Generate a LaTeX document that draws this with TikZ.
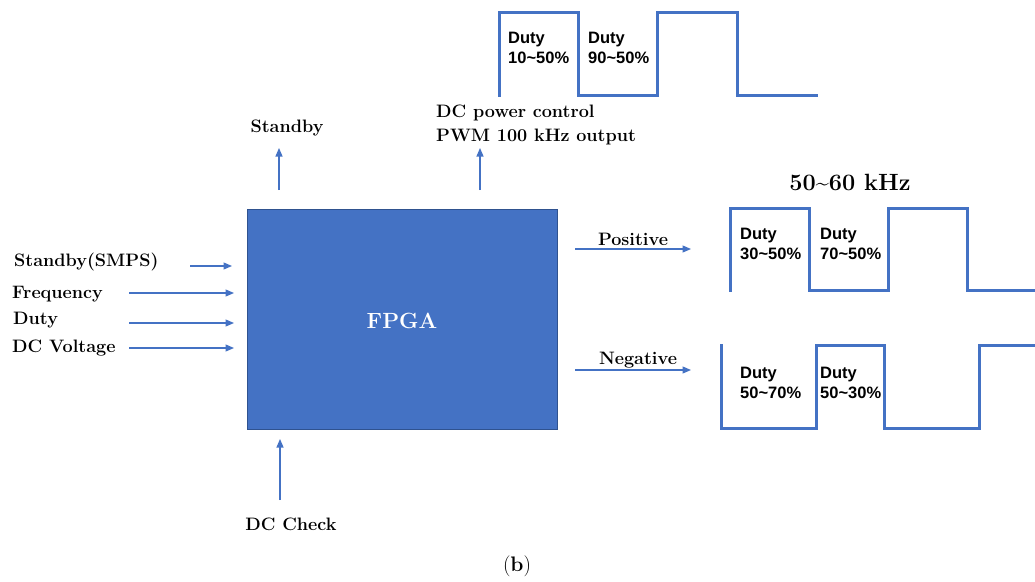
\documentclass[tikz,border=0pt]{standalone}
\usepackage{fontspec}
\newfontfamily\dutyfont{Liberation Sans}
\usetikzlibrary{arrows.meta}
\definecolor{wblue}{HTML}{4472C4}
\definecolor{bblue}{HTML}{2F528F}
\tikzset{
  sig/.style={draw=wblue, line width=1.2pt, -{Triangle[length=8.5pt,width=7pt]}},
  wave/.style={draw=wblue, line width=3pt, line join=miter, line cap=rect},
  lab/.style={font=\fontsize{18}{24}\selectfont\bfseries, inner sep=0pt},
  duty/.style={font=\dutyfont\fontsize{16.5}{20}\selectfont\bfseries, align=left, inner sep=0pt, anchor=north west},
}
\begin{document}
\begin{tikzpicture}[x=1pt,y=-1pt]
\useasboundingbox (0,0) rectangle (1035,581);
% FPGA
\node[draw=bblue, fill=wblue, line width=0.8pt, minimum width=310pt, minimum height=220pt, inner sep=0pt] (fpga) at (402,319) {};
\node[font=\fontsize{22}{26}\selectfont\bfseries, text=white] (fpgal) at (402,321) {FPGA};
% top outputs
\node[lab] (stby) at (287,128) {Standby};
\coordinate (stbyA) at (279,190);
\coordinate (stbyB) at (279,148);
\draw[sig] (stbyA) -- (stbyB);
\node[lab, align=left, anchor=west] (dcp) at (436,125) {DC power control\\PWM 100 kHz output};
\coordinate (dcpA) at (480,190);
\coordinate (dcpB) at (480,148);
\draw[sig] (dcpA) -- (dcpB);
% left inputs
\node[lab, anchor=west] (in1) at (14,262) {Standby(SMPS)};
\node[lab, anchor=west] (in2) at (12,294) {Frequency};
\node[lab, anchor=west] (in3) at (13,320) {Duty};
\node[lab, anchor=west] (in4) at (12,348) {DC Voltage};
\coordinate (a1) at (190,266); \coordinate (b1) at (232,266);
\coordinate (a2) at (129,293); \coordinate (b2) at (234,293);
\coordinate (a3) at (129,323); \coordinate (b3) at (234,323);
\coordinate (a4) at (129,348); \coordinate (b4) at (234,348);
\draw[sig] (a1) -- (b1);
\draw[sig] (a2) -- (b2);
\draw[sig] (a3) -- (b3);
\draw[sig] (a4) -- (b4);
% bottom
\coordinate (chkA) at (280,500);
\coordinate (chkB) at (280,439);
\draw[sig] (chkA) -- (chkB);
\node[lab] (chk) at (291,524) {DC Check};
\node[font=\fontsize{21}{24}\selectfont] (cap) at (517,566) {(\textbf{b})};
% right outputs
\coordinate (posA) at (575,249); \coordinate (posB) at (691,249);
\draw[sig] (posA) -- (posB);
\node[lab] (posl) at (633,239) {Positive};
\coordinate (negA) at (575,370); \coordinate (negB) at (691,370);
\draw[sig] (negA) -- (negB);
\node[lab] (negl) at (638,360) {Negative};
\node[font=\fontsize{23.5}{28}\selectfont\bfseries] (freq) at (850,182) {50\textasciitilde 60 kHz};
% top waveform
\draw[wave] (499,95) -- (499,12) -- (578,12) -- (578,95) -- (657,95) -- (657,12) -- (737,12) -- (737,95) -- (816,95);
\node[duty] (t1) at (508,32) {Duty\\10\textasciitilde 50\%};
\node[duty] (t2) at (588,32) {Duty\\90\textasciitilde 50\%};
% positive waveform
\draw[wave] (730,290) -- (730,208) -- (809,208) -- (809,290) -- (888,290) -- (888,208) -- (967,208) -- (967,290) -- (1035,290);
\node[duty] (p1) at (740,228) {Duty\\30\textasciitilde 50\%};
\node[duty] (p2) at (820,228) {Duty\\70\textasciitilde 50\%};
% negative waveform
\draw[wave] (721,345) -- (721,428) -- (816,428) -- (816,345) -- (884,345) -- (884,428) -- (979,428) -- (979,345) -- (1035,345);
\node[duty] (n1) at (740,367) {Duty\\50\textasciitilde 70\%};
\node[duty] (n2) at (820,367) {Duty\\50\textasciitilde 30\%};
\end{tikzpicture}
\end{document}
